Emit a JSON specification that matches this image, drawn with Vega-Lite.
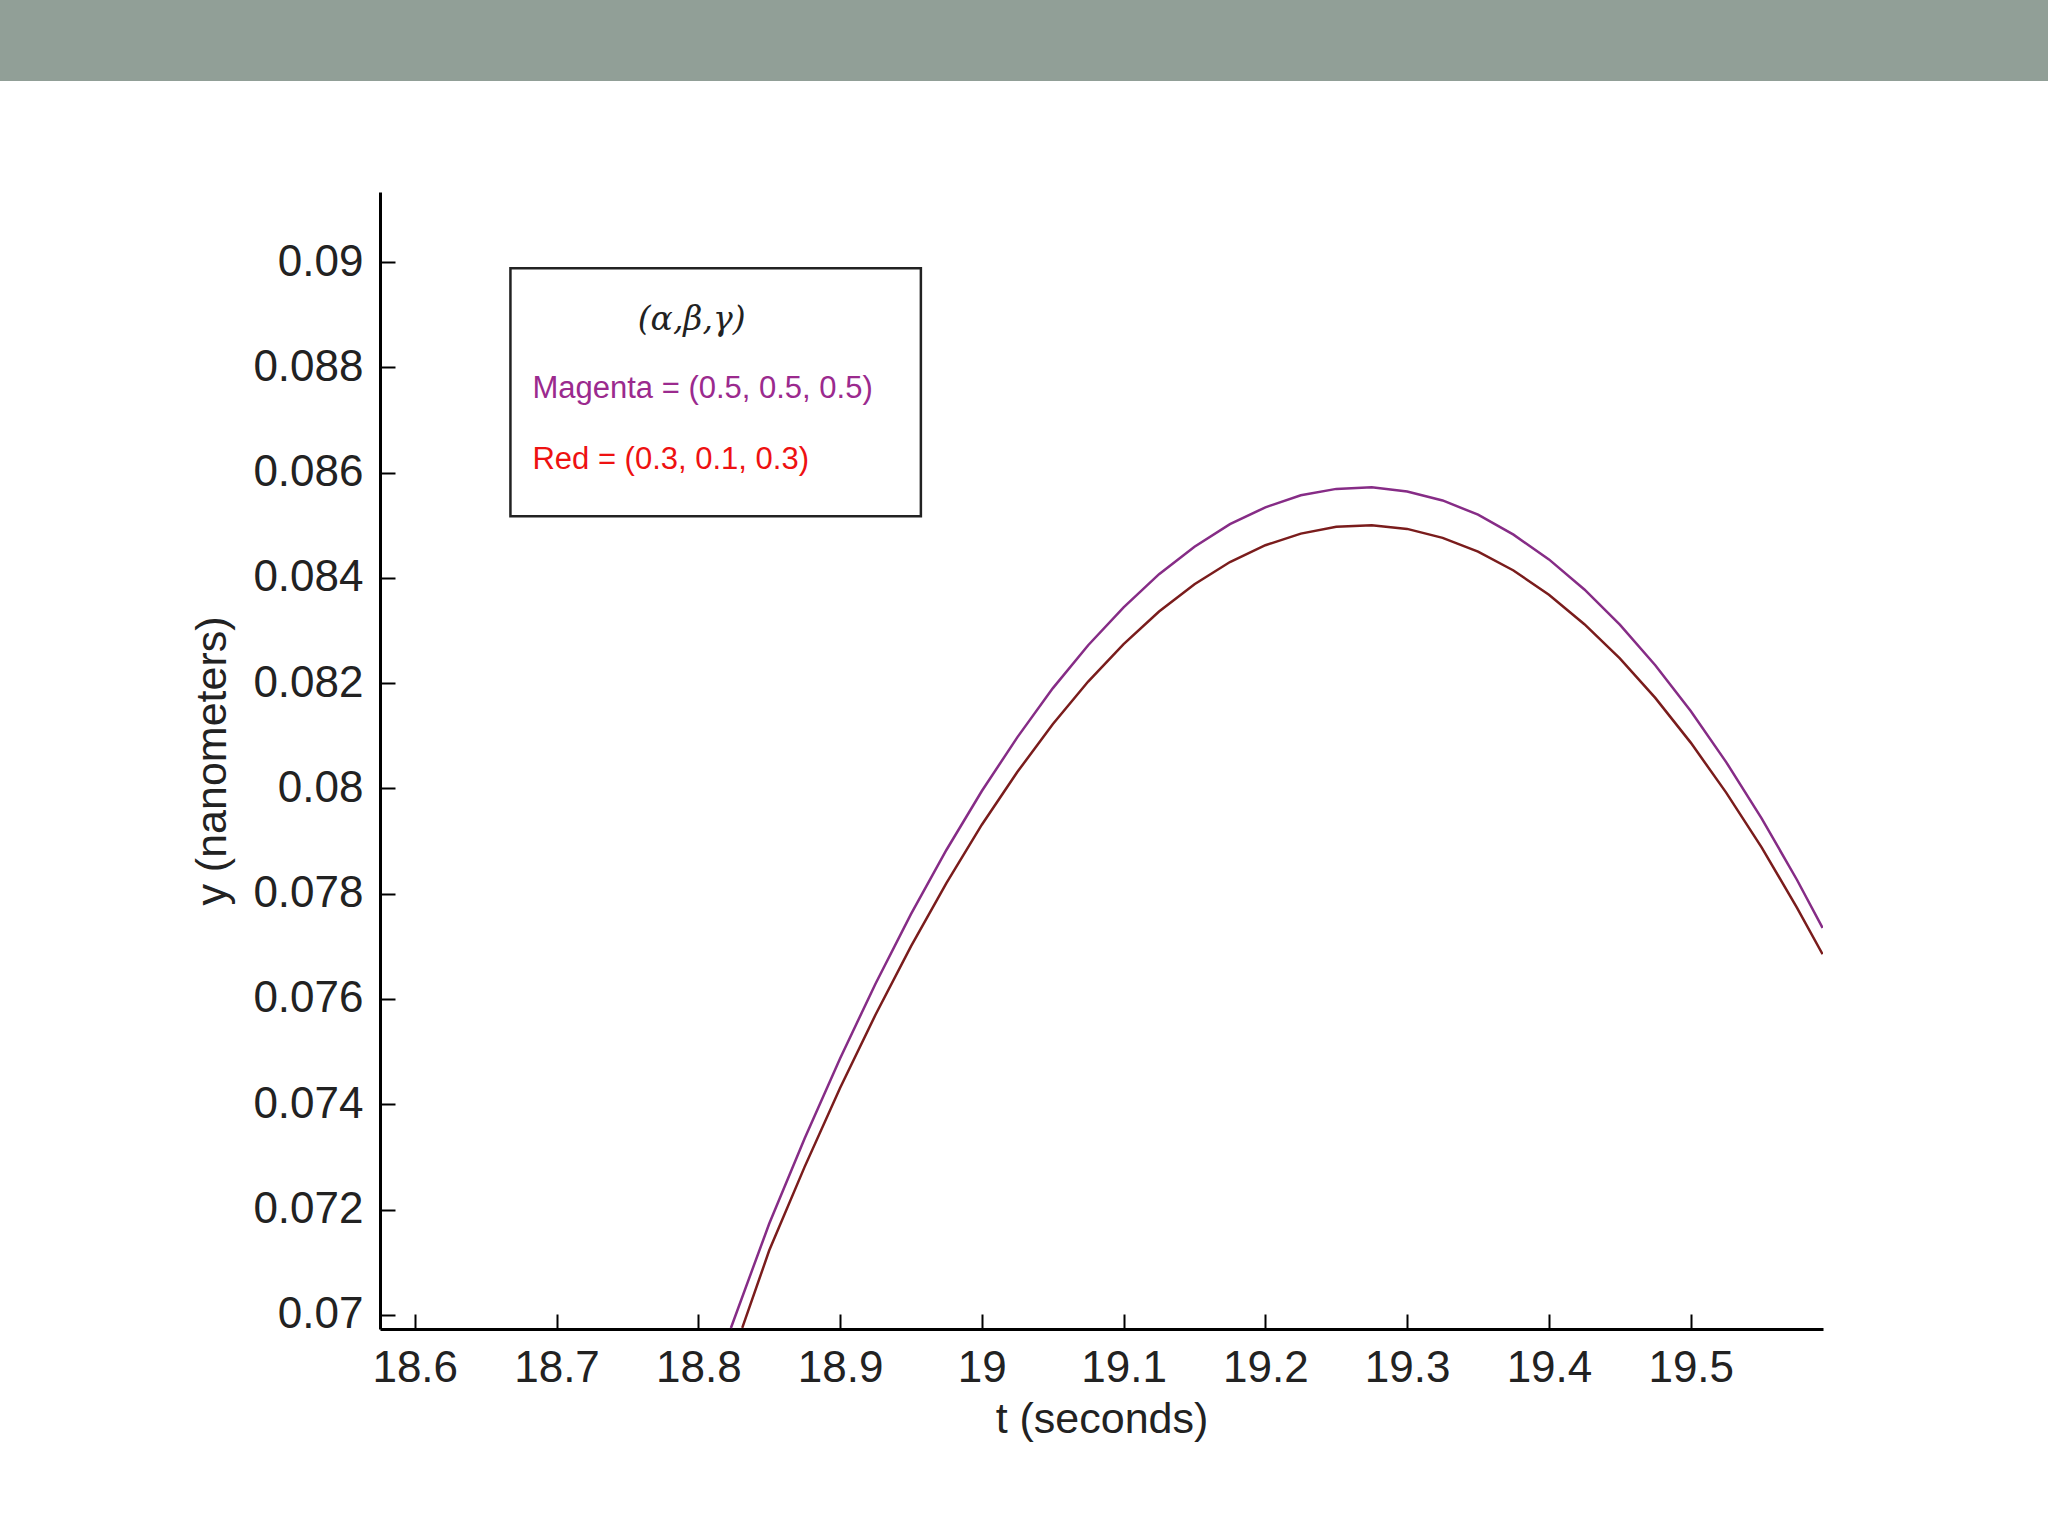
{
  "$schema": "https://vega.github.io/schema/vega-lite/v6.json",
  "width": 1443,
  "height": 1137,
  "autosize": {"type": "none"},
  "padding": {"left": 380, "top": 192, "right": 225, "bottom": 207},
  "background": "white",
  "config": {
    "view": {"stroke": null},
    "axis": {
      "grid": false,
      "domainColor": "#000000",
      "domainWidth": 3,
      "tickColor": "#000000",
      "tickWidth": 2,
      "labelFont": "Liberation Sans, Arial",
      "labelFontSize": 44,
      "labelColor": "#222222",
      "titleFont": "Liberation Sans, Arial",
      "titleFontSize": 43,
      "titleFontWeight": "normal",
      "titleColor": "#222222"
    }
  },
  "datasets": {
    "curves": [
      {"t": 18.823, "y": 0.06975, "series": "Magenta"},
      {"t": 18.85, "y": 0.07173, "series": "Magenta"},
      {"t": 18.875, "y": 0.07335, "series": "Magenta"},
      {"t": 18.9, "y": 0.07487, "series": "Magenta"},
      {"t": 18.925, "y": 0.07629, "series": "Magenta"},
      {"t": 18.95, "y": 0.07761, "series": "Magenta"},
      {"t": 18.975, "y": 0.07883, "series": "Magenta"},
      {"t": 19.0, "y": 0.07995, "series": "Magenta"},
      {"t": 19.025, "y": 0.08097, "series": "Magenta"},
      {"t": 19.05, "y": 0.08190, "series": "Magenta"},
      {"t": 19.075, "y": 0.08272, "series": "Magenta"},
      {"t": 19.1, "y": 0.08344, "series": "Magenta"},
      {"t": 19.125, "y": 0.08407, "series": "Magenta"},
      {"t": 19.15, "y": 0.08459, "series": "Magenta"},
      {"t": 19.175, "y": 0.08502, "series": "Magenta"},
      {"t": 19.2, "y": 0.08534, "series": "Magenta"},
      {"t": 19.225, "y": 0.08557, "series": "Magenta"},
      {"t": 19.25, "y": 0.08569, "series": "Magenta"},
      {"t": 19.275, "y": 0.08572, "series": "Magenta"},
      {"t": 19.3, "y": 0.08564, "series": "Magenta"},
      {"t": 19.325, "y": 0.08547, "series": "Magenta"},
      {"t": 19.35, "y": 0.08520, "series": "Magenta"},
      {"t": 19.375, "y": 0.08482, "series": "Magenta"},
      {"t": 19.4, "y": 0.08435, "series": "Magenta"},
      {"t": 19.425, "y": 0.08378, "series": "Magenta"},
      {"t": 19.45, "y": 0.08311, "series": "Magenta"},
      {"t": 19.475, "y": 0.08234, "series": "Magenta"},
      {"t": 19.5, "y": 0.08147, "series": "Magenta"},
      {"t": 19.525, "y": 0.08050, "series": "Magenta"},
      {"t": 19.55, "y": 0.07943, "series": "Magenta"},
      {"t": 19.575, "y": 0.07826, "series": "Magenta"},
      {"t": 19.593, "y": 0.07735, "series": "Magenta"},
      {"t": 18.831, "y": 0.06975, "series": "Red"},
      {"t": 18.85, "y": 0.07122, "series": "Red"},
      {"t": 18.875, "y": 0.07281, "series": "Red"},
      {"t": 18.9, "y": 0.07431, "series": "Red"},
      {"t": 18.925, "y": 0.07570, "series": "Red"},
      {"t": 18.95, "y": 0.07700, "series": "Red"},
      {"t": 18.975, "y": 0.07820, "series": "Red"},
      {"t": 19.0, "y": 0.07931, "series": "Red"},
      {"t": 19.025, "y": 0.08031, "series": "Red"},
      {"t": 19.05, "y": 0.08122, "series": "Red"},
      {"t": 19.075, "y": 0.08203, "series": "Red"},
      {"t": 19.1, "y": 0.08274, "series": "Red"},
      {"t": 19.125, "y": 0.08336, "series": "Red"},
      {"t": 19.15, "y": 0.08388, "series": "Red"},
      {"t": 19.175, "y": 0.08430, "series": "Red"},
      {"t": 19.2, "y": 0.08462, "series": "Red"},
      {"t": 19.225, "y": 0.08484, "series": "Red"},
      {"t": 19.25, "y": 0.08497, "series": "Red"},
      {"t": 19.275, "y": 0.08500, "series": "Red"},
      {"t": 19.3, "y": 0.08493, "series": "Red"},
      {"t": 19.325, "y": 0.08476, "series": "Red"},
      {"t": 19.35, "y": 0.08450, "series": "Red"},
      {"t": 19.375, "y": 0.08414, "series": "Red"},
      {"t": 19.4, "y": 0.08368, "series": "Red"},
      {"t": 19.425, "y": 0.08312, "series": "Red"},
      {"t": 19.45, "y": 0.08247, "series": "Red"},
      {"t": 19.475, "y": 0.08172, "series": "Red"},
      {"t": 19.5, "y": 0.08087, "series": "Red"},
      {"t": 19.525, "y": 0.07992, "series": "Red"},
      {"t": 19.55, "y": 0.07888, "series": "Red"},
      {"t": 19.575, "y": 0.07773, "series": "Red"},
      {"t": 19.593, "y": 0.07685, "series": "Red"}
    ]
  },
  "layer": [
    {
      "data": {"values": [{}]},
      "mark": {"type": "rect", "color": "#919f97", "clip": false},
      "encoding": {
        "x": {"datum": 18.2, "type": "quantitative", "scale": {"domain": [18.5755, 19.5933], "zero": false, "nice": false}},
        "x2": {"datum": 19.9},
        "y": {"datum": 0.09344, "type": "quantitative", "scale": {"domain": [0.06973, 0.09133], "zero": false, "nice": false}},
        "y2": {"datum": 0.0965}
      }
    },
    {
      "data": {"name": "curves"},
      "mark": {"type": "line", "strokeWidth": 2.5, "clip": true},
      "encoding": {
        "x": {
          "field": "t", "type": "quantitative",
          "scale": {"domain": [18.5755, 19.5933], "zero": false, "nice": false},
          "axis": {
            "values": [18.6, 18.7, 18.8, 18.9, 19.0, 19.1, 19.2, 19.3, 19.4, 19.5],
            "format": "~g",
            "tickSize": -15,
            "labelPadding": 32,
            "title": "t (seconds)",
            "titlePadding": 8
          }
        },
        "y": {
          "field": "y", "type": "quantitative",
          "scale": {"domain": [0.06973, 0.09133], "zero": false, "nice": false},
          "axis": {
            "values": [0.07, 0.072, 0.074, 0.076, 0.078, 0.08, 0.082, 0.084, 0.086, 0.088, 0.09],
            "format": "~g",
            "tickSize": -15,
            "labelPadding": 32,
            "title": "y (nanometers)",
            "titlePadding": 18
          }
        },
        "color": {
          "field": "series", "type": "nominal",
          "scale": {"domain": ["Magenta", "Red"], "range": ["#862c86", "#7a1c1c"]},
          "legend": null
        }
      }
    },
    {
      "data": {"values": [{}]},
      "mark": {"type": "rect", "fill": "white", "stroke": "#222222", "strokeWidth": 2.5},
      "encoding": {
        "x": {"datum": 18.6675, "type": "quantitative"},
        "x2": {"datum": 18.957},
        "y": {"datum": 0.08988, "type": "quantitative"},
        "y2": {"datum": 0.08517}
      }
    },
    {
      "data": {"values": [{}]},
      "mark": {"type": "text", "font": "DejaVu Serif", "fontStyle": "italic", "fontSize": 33, "color": "#222222", "align": "center", "baseline": "middle"},
      "encoding": {
        "x": {"datum": 18.7953, "type": "quantitative"},
        "y": {"datum": 0.08889, "type": "quantitative"},
        "text": {"value": "(α,β,γ)"}
      }
    },
    {
      "data": {"values": [{}]},
      "mark": {"type": "text", "font": "Liberation Sans, Arial", "fontSize": 31, "color": "#9b2a8e", "align": "left", "baseline": "middle"},
      "encoding": {
        "x": {"datum": 18.683, "type": "quantitative"},
        "y": {"datum": 0.08758, "type": "quantitative"},
        "text": {"value": "Magenta = (0.5, 0.5, 0.5)"}
      }
    },
    {
      "data": {"values": [{}]},
      "mark": {"type": "text", "font": "Liberation Sans, Arial", "fontSize": 31, "color": "#ee1111", "align": "left", "baseline": "middle"},
      "encoding": {
        "x": {"datum": 18.683, "type": "quantitative"},
        "y": {"datum": 0.08623, "type": "quantitative"},
        "text": {"value": "Red = (0.3, 0.1, 0.3)"}
      }
    }
  ]
}
